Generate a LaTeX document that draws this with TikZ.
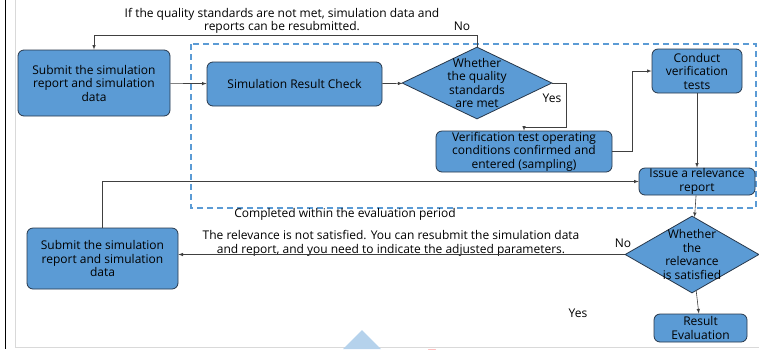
\documentclass[tikz,border=0pt]{standalone}
\usepackage{fontspec}
\setmainfont{Open Sans}
\usetikzlibrary{arrows,positioning,calc,shapes.geometric}
\definecolor{boxblue}{HTML}{5B9BD5}
\definecolor{boxline}{HTML}{27374A}
\definecolor{frameblue}{HTML}{5B9BD5}

\begin{document}
\begin{tikzpicture}[x=1pt,y=-1pt,font=\fontsize{12}{13.5}\selectfont,
  box/.style={draw=boxline,fill=boxblue,rounded corners=6pt,align=center,inner sep=1pt,line width=0.8pt},
  check/.style={diamond,draw=boxline,fill=boxblue,inner sep=0pt,line width=0.8pt},
  plain/.style={align=center,inner sep=0pt},
  link/.style={draw=black!75,line width=0.6pt,-latex}]
\useasboundingbox (0,0) rectangle (759,349);
\draw[line width=1.6pt] (5.5,0) -- (5.5,349);
\draw[black!15,line width=1.6pt] (15.5,0) -- (15.5,347.5) -- (759,347.5);
\fill[boxblue!45] (343,349) -- (362,330) -- (381,349) -- cycle;
\fill[red!25] (428,349) arc (180:0:4);

\draw[frameblue,dash pattern=on 6pt off 4pt,line width=1.2pt] (191,44) rectangle (756,208);

\node[box,minimum width=152pt,minimum height=66pt] (sub1) at (94,83)
  {Submit the simulation\\report and simulation\\data};
\node[box,minimum width=175pt,minimum height=44pt] (check) at (294.5,84) {Simulation Result Check};
\node[check,minimum width=150pt,minimum height=72pt] (q1) at (477,83) {};
\node[plain] (q1t) at (q1) {Whether\\the quality\\standards\\are met};
\node[box,minimum width=176pt,minimum height=41pt,inner sep=0pt] (cond) at (524,151.5)
  {Verification test operating\\conditions confirmed and\\entered (sampling)};
\node[box,minimum width=90pt,minimum height=44pt] (test) at (697,71) {Conduct\\verification\\tests};
\node[box,minimum width=116pt,minimum height=27pt,inner sep=0pt] (issue) at (697,181.5) {Issue a relevance\\report};
\node[check,minimum width=134pt,minimum height=77pt] (q2) at (692,254.5) {};
\node[plain] (q2t) at (q2) {Whether\\the\\relevance\\is satisfied};
\node[box,minimum width=93pt,minimum height=28pt,inner sep=0pt] (result) at (700.5,328) {Result\\Evaluation};
\node[box,minimum width=151pt,minimum height=61pt] (sub2) at (102.5,258.5)
  {Submit the simulation\\report and simulation\\data};

\node[plain] (note1) at (282,21) {If the quality standards are not met, simulation data and\\reports can be resubmitted.};
\node[plain] (no1) at (462,26) {No};
\node[plain] (yes1) at (552,98) {Yes};
\node[plain] (period) at (345,214) {Completed within the evaluation period};
\node[plain] (note2) at (391,243.5) {The relevance is not satisfied. You can resubmit the simulation data\\and report, and you need to indicate the adjusted parameters.};
\node[plain] (no2) at (623,243) {No};
\node[plain] (yes2) at (578,313) {Yes};

\draw[link] (sub1) -- (check);
\draw[link] (check) -- (q1);
\draw[link] (q1.north) -- ++(0,-11) -| (sub1.north);
\draw[link] (q1.east) -- ++(14,0) -- ++(0,44) -| (cond.north);
\draw[link] (cond.east) -- ++(20,0) |- (test.west);
\foreach \a/\b in {test/issue,issue/q2,q2/result}
  \draw[link] (\a) -- (\b);
\draw[link] (q2.west) -- (q2.west -| sub2.east);
\draw[link] (sub2.north) |- (issue.west);
\end{tikzpicture}
\end{document}
